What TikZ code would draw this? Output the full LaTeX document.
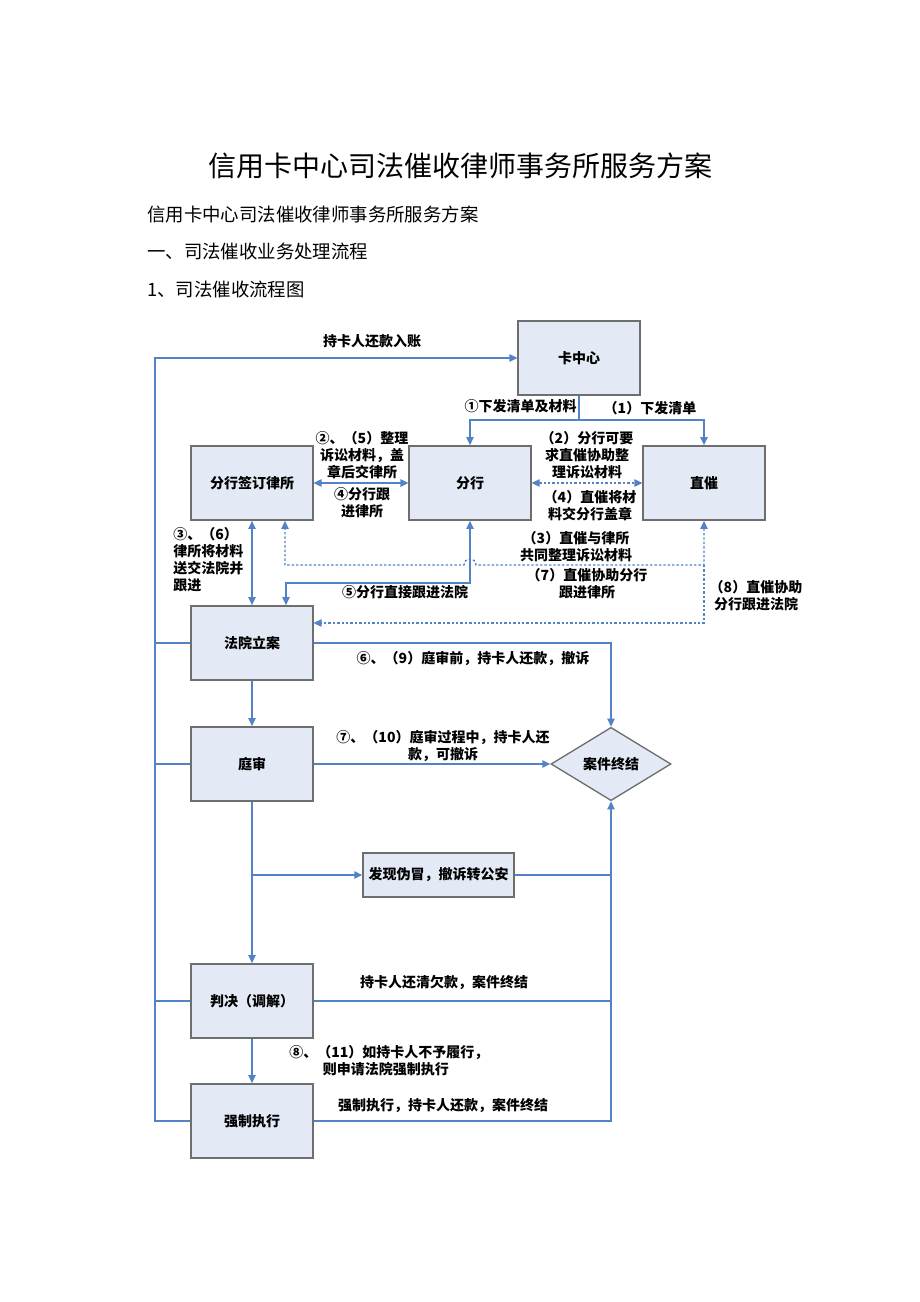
\documentclass[tikz,border=0pt]{standalone}
\usepackage{fontspec}
\setmainfont{Noto Sans CJK SC}
\usetikzlibrary{arrows.meta, positioning, shapes.geometric}
\definecolor{flowblue}{RGB}{84,130,198}
\definecolor{boxfill}{RGB}{228,234,245}
\definecolor{boxline}{RGB}{110,110,110}

\begin{document}
\begin{tikzpicture}[x=0.75pt, y=-0.75pt, >={Triangle[length=6pt,width=5.5pt]},
    box/.style={draw=boxline, line width=1.3pt, fill=boxfill, minimum width=91pt, minimum height=55.5pt, font=\bfseries\fontsize{10.5}{12.75}\selectfont},
    link/.style={draw=flowblue, line width=1.1pt},
    dotlink/.style={link, line width=1pt, dash pattern=on 1.8pt off 1.5pt},
    lbl/.style={font=\bfseries\fontsize{10.5}{12.75}\selectfont, align=center, inner sep=0pt}]

    \useasboundingbox (0,0) rectangle (920,1302);

    % Page heading
    \node[font=\fontsize{21}{25}\selectfont] (title) at (460,166) {信用卡中心司法催收律师事务所服务方案};
    \node[anchor=west, inner sep=0pt, font=\fontsize{13.8}{16}\selectfont] (intro) at (147,214) {信用卡中心司法催收律师事务所服务方案};
    \node[anchor=west, inner sep=0pt, font=\fontsize{13.8}{16}\selectfont] (sec) at (147,252) {一、司法催收业务处理流程};
    \node[anchor=west, inner sep=0pt, font=\fontsize{13.8}{16}\selectfont] (subsec) at (147,290) {1、司法催收流程图};

    % Boxes
    \node[box] (card) at (579,358) {卡中心};
    \node[box] (firm) at (252,483) {分行签订律所};
    \node[box] (branch) at (470,483) {分行};
    \node[box] (collect) at (704,483) {直催};
    \node[box] (filing) at (252,643) {法院立案};
    \node[box] (trial) at (252,764) {庭审};
    \node[box] (judge) at (252,1001) {判决（调解）};
    \node[box] (enforce) at (252,1121) {强制执行};
    \node[box, minimum width=113pt, minimum height=33pt] (fraud) at (438.5,875) {发现伪冒，撤诉转公安};
    \node[diamond, draw=boxline, line width=1pt, fill=boxfill, minimum width=90pt, minimum height=55pt, inner sep=0pt, font=\bfseries\fontsize{10.5}{12.75}\selectfont] (closed) at (611,764) {案件终结};

    % Left return line
    \coordinate (trunkTop) at (155,358);
    \coordinate (trunkBot) at (155,1121);
    \draw[link,->] (enforce.west) -- (trunkBot) -- (trunkTop) -- (card.west);
    \foreach \n in {filing,trial,judge}
        \draw[link] (\n.west) -- (\n.west -| trunkTop);

    % Card centre hands out lists
    \coordinate (split) at (579,420);
    \draw[link] (card.south) -- (split);
    \draw[link,->] (split) -| (branch.north);
    \draw[link,->] (split) -| (collect.north);

    % Second row
    \draw[link,<->] (firm.east) -- (branch.west);
    \draw[dotlink,<->] (branch.east) -- (collect.west);
    \draw[link,<->] (firm.south) -- (filing.north);

    % Branch follows court
    \coordinate (bend5) at (286,583);
    \draw[link,<->] (branch.south) |- (bend5) -- (bend5 |- filing.north);

    % Dotted help lines with a hop
    \coordinate (dotJoin) at (704,565);
    \coordinate (dotLeft) at (285,565);
    \coordinate (hopR) at (476,565);
    \coordinate (hopL) at (464,565);
    \draw[dotlink,<->] (collect.south) -- (dotJoin) -- (hopR) .. controls (476,557) and (464,557) .. (hopL) -- (dotLeft) -- (dotLeft |- firm.south);
    \coordinate (dotLow) at (704,623);
    \draw[dotlink,->] (dotJoin) -- (dotLow) -- (dotLow -| filing.east);

    % Court steps
    \draw[link,->] (filing.east) -| (closed.north);
    \draw[link,->] (filing.south) -- (trial.north);
    \draw[link,->] (trial.east) -- (closed.west);
    \draw[link,->] (trial.south) -- (judge.north);
    \draw[link,->] (trial.south |- fraud.west) -- (fraud.west);
    \draw[link,->] (judge.south) -- (enforce.north);

    % Right collecting line
    \coordinate (rightBot) at (611,1121);
    \draw[link,->] (enforce.east) -- (rightBot) -- (closed.south);
    \draw[link] (judge.east) -- (judge.east -| rightBot);
    \draw[link] (fraud.east) -- (fraud.east -| rightBot);

    % Labels
    \node[lbl] (lblRepay) at (372,341) {持卡人还款入账};
    \node[lbl, anchor=east] (lblIssueA) at (577,406) {①下发清单及材料};
    \node[lbl] (lblIssueB) at (650,408) {（1）下发清单};
    \node[lbl] (lblSort) at (362,455) {②、（5）整理\\诉讼材料，盖\\章后交律所};
    \node[lbl] (lblFollow) at (362,503) {④分行跟\\进律所};
    \node[lbl] (lblAsk) at (587,455) {（2）分行可要\\求直催协助整\\理诉讼材料};
    \node[lbl] (lblStamp) at (590,506) {（4）直催将材\\料交分行盖章};
    \node[lbl, align=left, anchor=west] (lblSend) at (173,560) {③、（6）\\律所将材料\\送交法院并\\跟进};
    \node[lbl] (lblJoint) at (576,547) {（3）直催与律所\\共同整理诉讼材料};
    \node[lbl] (lblCourt) at (405,592) {⑤分行直接跟进法院};
    \node[lbl] (lblAssist) at (587,584) {（7）直催协助分行\\跟进律所};
    \node[lbl] (lblAssistCourt) at (756,596) {（8）直催协助\\分行跟进法院};
    \node[lbl] (lblBefore) at (473,658) {⑥、（9）庭审前，持卡人还款，撤诉};
    \node[lbl] (lblDuring) at (443,746) {⑦、（10）庭审过程中，持卡人还\\款，可撤诉};
    \node[lbl] (lblPaid) at (444,983) {持卡人还清欠款，案件终结};
    \node[lbl, align=left, anchor=north west] (lblApply) at (289,1045) {⑧、（11）如持卡人不予履行，\\\hspace*{2.4em}则申请法院强制执行};
    \node[lbl] (lblForced) at (443,1106) {强制执行，持卡人还款，案件终结};

\end{tikzpicture}
\end{document}
